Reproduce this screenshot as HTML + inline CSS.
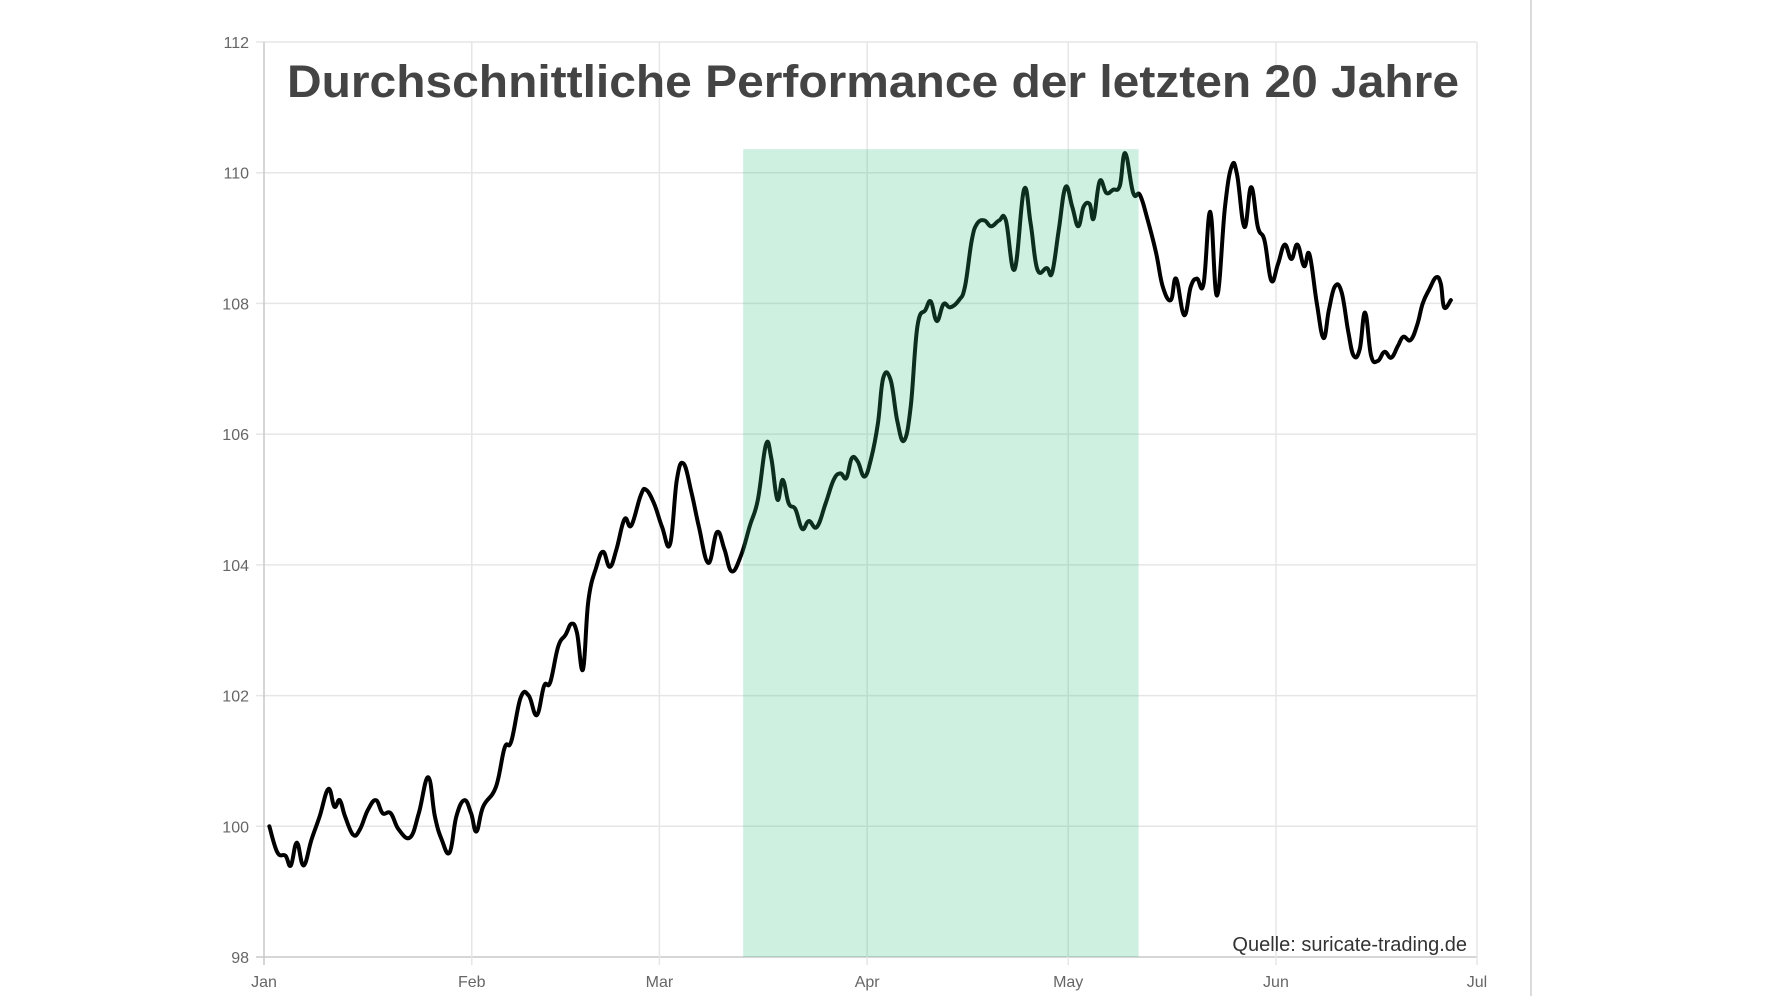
<!DOCTYPE html>
<html><head><meta charset="utf-8"><style>
html,body{margin:0;padding:0;background:#fff;}
svg{display:block;font-family:"Liberation Sans",Arial,sans-serif;}
</style></head><body>
<svg id="chart" width="1772" height="996" viewBox="0 0 1772 996" xmlns="http://www.w3.org/2000/svg">
<line x1="1531" y1="0" x2="1531" y2="996" stroke="#cfcfcf" stroke-width="1.5"/>
<g id="grid"></g>
<g id="axes"></g>
<path id="line" fill="none" stroke="#000" stroke-width="4" stroke-linejoin="round" stroke-linecap="round"/>
<rect id="shade" fill="rgba(46,192,125,0.24)"/>
<text x="873" y="97" text-anchor="middle" font-size="45" font-weight="bold" fill="#444" textLength="1172" lengthAdjust="spacingAndGlyphs">Durchschnittliche Performance der letzten 20 Jahre</text>
<text x="1467" y="951" text-anchor="end" font-size="20" fill="#333">Quelle: suricate-trading.de</text>
</svg>
<script>
const yTicks=[98,100,102,104,106,108,110,112];
const monthLabels=["Jan","Feb","Mar","Apr","May","Jun","Jul"];
const monthDays=[0,31,59,90,120,151,181];
const shadeStartDay=71.5;
const shadeEndDay=130.5;
const shadeTop=110.36;
const days=[0.8,2.0,3.2,4.0,4.9,5.9,7.1,8.3,9.6,10.5,11.3,12.1,13.3,14.3,15.5,16.7,17.7,18.9,20.1,21.8,23.1,24.5,25.5,26.5,27.7,28.7,29.9,30.9,31.7,32.7,34.6,35.9,36.9,38.3,39.5,40.7,41.8,42.7,43.9,45.0,45.9,46.7,47.6,48.4,49.6,50.6,51.6,52.6,53.8,54.8,56.2,57.0,58.2,59.4,60.6,61.6,62.6,63.8,64.9,66.3,67.6,68.7,69.8,71.2,72.5,73.7,74.9,75.7,76.6,77.4,78.3,79.3,80.3,81.3,82.5,83.8,85.0,86.0,86.9,87.7,88.6,89.6,90.6,91.6,92.4,93.5,94.5,95.5,96.5,97.5,98.7,99.5,100.4,101.4,102.4,103.7,104.6,105.6,106.4,107.5,108.5,109.7,110.7,112.0,113.4,114.4,115.4,116.8,117.6,118.6,119.6,120.6,121.5,122.3,123.2,123.8,124.7,125.7,126.7,127.7,128.5,129.7,130.7,131.8,133.1,134.1,135.3,136.1,137.3,138.3,139.2,140.2,141.2,142.2,143.4,144.4,145.2,146.3,147.3,148.3,149.3,150.3,151.3,152.3,153.3,154.2,155.2,156.0,157.1,158.1,158.9,159.8,160.8,161.8,162.6,163.5,164.3,165.2,166.2,167.2,168.2,169.2,170.0,171.1,172.1,172.9,173.9,174.9,175.6,176.1,177.1];
const values=[100.0,99.6,99.55,99.4,99.75,99.4,99.8,100.15,100.57,100.3,100.4,100.15,99.87,99.95,100.25,100.4,100.2,100.2,99.95,99.83,100.2,100.75,100.15,99.8,99.6,100.15,100.4,100.2,99.92,100.3,100.6,101.2,101.3,101.97,102.0,101.7,102.15,102.2,102.75,102.93,103.1,102.96,102.4,103.45,103.97,104.2,103.97,104.24,104.7,104.6,105.06,105.15,104.94,104.58,104.32,105.3,105.55,105.1,104.58,104.03,104.5,104.24,103.9,104.15,104.6,105.0,105.84,105.63,105.0,105.3,104.94,104.85,104.55,104.67,104.58,104.94,105.3,105.4,105.33,105.63,105.58,105.35,105.63,106.16,106.86,106.83,106.2,105.9,106.42,107.65,107.9,108.03,107.73,107.99,107.94,108.05,108.26,108.96,109.22,109.27,109.18,109.27,109.27,108.52,109.74,109.22,108.52,108.54,108.47,109.13,109.78,109.48,109.18,109.48,109.52,109.3,109.87,109.69,109.74,109.8,110.3,109.69,109.66,109.3,108.78,108.26,108.05,108.38,107.82,108.26,108.38,108.3,109.4,108.12,109.48,110.1,109.97,109.17,109.78,109.17,108.96,108.35,108.6,108.9,108.68,108.9,108.57,108.75,108.0,107.47,107.9,108.26,108.17,107.56,107.2,107.3,107.86,107.2,107.12,107.26,107.17,107.35,107.49,107.44,107.68,108.0,108.22,108.4,108.3,107.94,108.05];

const X0=264,X1=1477,Y0=957,Y1=42;
function xs(d){return X0+d*(X1-X0)/181;}
function ys(v){return Y0-(v-98)*(Y0-Y1)/14;}
const NS="http://www.w3.org/2000/svg";
const grid=document.getElementById('grid'),axes=document.getElementById('axes');
function mk(tag,attrs,parent){const e=document.createElementNS(NS,tag);for(const k in attrs)e.setAttribute(k,attrs[k]);parent.appendChild(e);return e;}
yTicks.forEach(v=>{
  const l=mk('line',{x1:X0-8,x2:X1,y1:ys(v),y2:ys(v),stroke:v===98?'#c8c8c8':'#e6e6e6','stroke-width':1.5},grid);
  
  
  const t=mk('text',{x:X0-15,y:ys(v)+6,'text-anchor':'end','font-size':16,fill:'#666'},axes);
  t.textContent=v;
  
  
});
monthLabels.forEach((m,i)=>{
  const x=xs(monthDays[i]);
  const l=mk('line',{x1:x,x2:x,y1:Y1,y2:Y0+8,stroke:i===0?'#c8c8c8':'#e6e6e6','stroke-width':1.5},grid);
  
  
  const t=mk('text',{x:x,y:Y0+30,'text-anchor':'middle','font-size':16,fill:'#666'},axes);
  t.textContent=m;
  
  
});
const sh=document.getElementById('shade');
sh.setAttribute('x',xs(shadeStartDay));
sh.setAttribute('width',xs(shadeEndDay)-xs(shadeStartDay));
sh.setAttribute('y',ys(shadeTop));
sh.setAttribute('height',ys(98)-ys(shadeTop));
const P=days.map((d,i)=>[xs(d),ys(values[i])]);
let dStr='M'+P[0][0]+','+P[0][1];
for(let i=0;i<P.length-1;i++){
  const p0=P[Math.max(0,i-1)],p1=P[i],p2=P[i+1],p3=P[Math.min(P.length-1,i+2)];
  const t=0.2;
  const c1=[p1[0]+(p2[0]-p0[0])*t,p1[1]+(p2[1]-p0[1])*t];
  const c2=[p2[0]-(p3[0]-p1[0])*t,p2[1]-(p3[1]-p1[1])*t];
  dStr+=' C'+c1[0]+','+c1[1]+' '+c2[0]+','+c2[1]+' '+p2[0]+','+p2[1];
}
document.getElementById('line').setAttribute('d',dStr);
</script>
</body></html>
